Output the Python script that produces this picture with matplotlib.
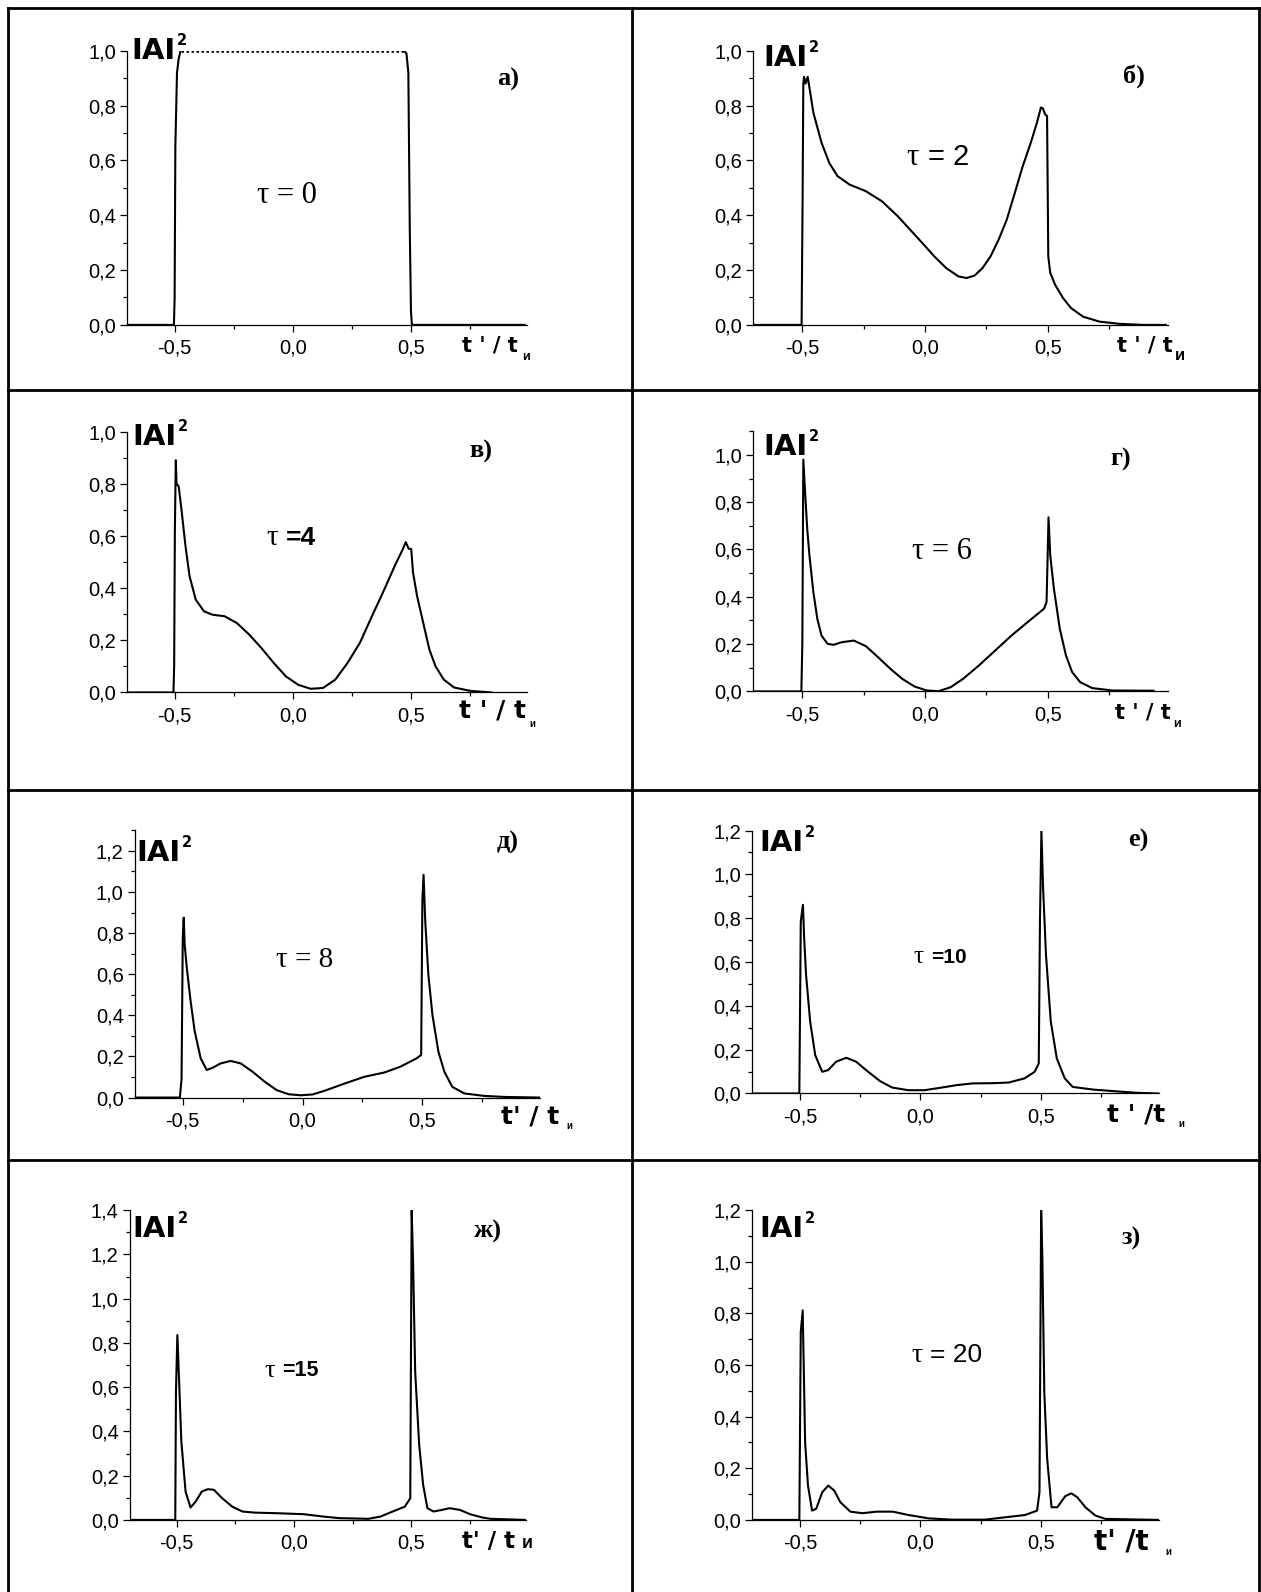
import matplotlib
matplotlib.use("Agg")
import matplotlib.pyplot as plt
from matplotlib.lines import Line2D
from matplotlib.ticker import FixedLocator, FuncFormatter

plt.rcParams['font.family'] = ['Liberation Sans', 'DejaVu Sans']

# ---------------- data (t'/t_и , |A|^2) ----------------
t_a = [-0.70, -0.503, -0.500, -0.497, -0.490, -0.483, -0.475, 0.470, 0.480, 0.488, 0.494, 0.499, 0.503, 0.98]
I_a = [0, 0, 0.10, 0.65, 0.92, 0.97, 1.00, 1.00, 0.99, 0.92, 0.35, 0.05, 0, 0]

t_b = [-0.70, -0.502, -0.498, -0.495, -0.492, -0.486, -0.477, -0.454, -0.421, -0.389, -0.356, -0.307,
       -0.241, -0.175, -0.110, -0.061, -0.011, 0.038, 0.087, 0.136, 0.169, 0.202, 0.234, 0.267, 0.300,
       0.333, 0.366, 0.398, 0.431, 0.456, 0.472, 0.480, 0.489, 0.497, 0.502, 0.510, 0.530, 0.562, 0.595,
       0.644, 0.710, 0.790, 0.890, 0.98]
I_b = [0, 0, 0.45, 0.88, 0.905, 0.88, 0.905, 0.774, 0.665, 0.59, 0.543, 0.512, 0.488, 0.451, 0.396,
       0.348, 0.299, 0.25, 0.207, 0.177, 0.171, 0.18, 0.207, 0.25, 0.311, 0.384, 0.482, 0.579, 0.665,
       0.738, 0.793, 0.79, 0.768, 0.762, 0.25, 0.19, 0.146, 0.098, 0.061, 0.03, 0.012, 0.004, 0.0, 0.0]

t_c = [-0.70, -0.505, -0.502, -0.499, -0.495, -0.492, -0.483, -0.471, -0.454, -0.437, -0.411, -0.376,
       -0.341, -0.289, -0.237, -0.185, -0.133, -0.081, -0.029, 0.023, 0.075, 0.127, 0.179, 0.231, 0.283,
       0.334, 0.386, 0.430, 0.464, 0.477, 0.490, 0.500, 0.508, 0.525, 0.551, 0.577, 0.603, 0.638, 0.681,
       0.750, 0.840]
I_c = [0, 0, 0.10, 0.62, 0.89, 0.80, 0.79, 0.70, 0.56, 0.446, 0.356, 0.311, 0.298, 0.292, 0.266, 0.222,
       0.170, 0.113, 0.061, 0.029, 0.014, 0.017, 0.049, 0.113, 0.19, 0.292, 0.394, 0.484, 0.548, 0.576,
       0.55, 0.55, 0.458, 0.369, 0.266, 0.164, 0.10, 0.049, 0.019, 0.006, 0.0]

t_d = [-0.70, -0.503, -0.499, -0.495, -0.487, -0.479, -0.470, -0.454, -0.438, -0.421, -0.396, -0.372,
       -0.339, -0.289, -0.240, -0.191, -0.141, -0.092, -0.043, 0.007, 0.056, 0.105, 0.155, 0.220, 0.286,
       0.352, 0.418, 0.484, 0.495, 0.503, 0.510, 0.525, 0.549, 0.574, 0.599, 0.632, 0.681, 0.763, 0.930]
I_d = [0, 0, 0.2, 0.98, 0.827, 0.686, 0.574, 0.419, 0.307, 0.236, 0.201, 0.197, 0.208, 0.215, 0.191,
       0.145, 0.096, 0.053, 0.021, 0.004, 0.001, 0.018, 0.053, 0.11, 0.173, 0.236, 0.293, 0.349, 0.377,
       0.736, 0.574, 0.433, 0.264, 0.152, 0.082, 0.039, 0.014, 0.004, 0.003]

t_e = [-0.70, -0.512, -0.505, -0.500, -0.496, -0.492, -0.483, -0.467, -0.450, -0.425, -0.400, -0.375,
       -0.342, -0.300, -0.258, -0.208, -0.158, -0.108, -0.058, -0.008, 0.042, 0.092, 0.175, 0.258, 0.342,
       0.408, 0.475, 0.495, 0.500, 0.505, 0.512, 0.525, 0.542, 0.567, 0.592, 0.625, 0.675, 0.758, 0.842, 0.99]
I_e = [0, 0, 0.09, 0.777, 0.875, 0.744, 0.63, 0.467, 0.321, 0.19, 0.134, 0.145, 0.166, 0.178, 0.166,
       0.125, 0.077, 0.036, 0.016, 0.011, 0.015, 0.033, 0.068, 0.101, 0.122, 0.15, 0.19, 0.207, 0.956,
       1.083, 0.858, 0.598, 0.402, 0.223, 0.125, 0.052, 0.02, 0.008, 0.003, 0.0]

t_f = [-0.70, -0.503, -0.497, -0.488, -0.483, -0.475, -0.458, -0.437, -0.408, -0.383, -0.350, -0.308,
       -0.267, -0.217, -0.167, -0.117, -0.050, 0.017, 0.083, 0.150, 0.217, 0.300, 0.367, 0.433, 0.475,
       0.492, 0.497, 0.503, 0.510, 0.522, 0.542, 0.567, 0.600, 0.633, 0.717, 0.800, 0.900, 0.99]
I_f = [0, 0, 0.785, 0.861, 0.709, 0.541, 0.328, 0.175, 0.099, 0.107, 0.145, 0.163, 0.145, 0.099, 0.056,
       0.027, 0.015, 0.015, 0.026, 0.038, 0.046, 0.047, 0.05, 0.069, 0.099, 0.137, 0.785, 1.2, 0.938,
       0.633, 0.328, 0.16, 0.069, 0.03, 0.018, 0.011, 0.003, 0.0]

t_g = [-0.70, -0.506, -0.503, -0.497, -0.490, -0.480, -0.462, -0.441, -0.419, -0.393, -0.367, -0.341,
       -0.306, -0.263, -0.220, -0.168, -0.064, 0.040, 0.126, 0.195, 0.317, 0.369, 0.421, 0.473, 0.496,
       0.502, 0.508, 0.517, 0.534, 0.551, 0.569, 0.595, 0.630, 0.664, 0.708, 0.751, 0.803, 0.838, 0.99]
I_g = [0, 0, 0.58, 0.836, 0.64, 0.354, 0.128, 0.056, 0.083, 0.128, 0.139, 0.136, 0.098, 0.06, 0.038,
       0.033, 0.03, 0.026, 0.015, 0.008, 0.005, 0.015, 0.038, 0.06, 0.098, 1.4, 1.167, 0.67, 0.339, 0.158,
       0.053, 0.038, 0.045, 0.053, 0.045, 0.026, 0.011, 0.005, 0.0]

t_h = [-0.70, -0.503, -0.497, -0.489, -0.484, -0.479, -0.467, -0.450, -0.433, -0.408, -0.383, -0.358,
       -0.333, -0.291, -0.241, -0.182, -0.115, -0.049, 0.034, 0.134, 0.268, 0.351, 0.435, 0.485, 0.495,
       0.502, 0.507, 0.515, 0.527, 0.545, 0.569, 0.602, 0.627, 0.652, 0.686, 0.727, 0.769, 0.99]
I_h = [0, 0, 0.728, 0.812, 0.56, 0.301, 0.133, 0.036, 0.043, 0.107, 0.133, 0.114, 0.069, 0.032, 0.026,
       0.032, 0.032, 0.019, 0.006, 0.001, 0.001, 0.01, 0.019, 0.036, 0.107, 1.2, 1.013, 0.495, 0.237,
       0.049, 0.049, 0.092, 0.103, 0.088, 0.049, 0.017, 0.004, 0.0]

panel_letters = ["а)", "б)", "в)", "г)", "д)", "е)", "ж)", "з)"]
y_tops = [1.0, 1.0, 1.0, 1.1, 1.3, 1.2, 1.4, 1.2]
x_major = [-0.5, 0.0, 0.5]
x_minor = [-0.25, 0.25, 0.75]
series = [(t_a, I_a), (t_b, I_b), (t_c, I_c), (t_d, I_d), (t_e, I_e), (t_f, I_f), (t_g, I_g), (t_h, I_h)]

# ---------------- layout (reference pixel coordinates, 1242x1568 space) ----------------
W, H = 1242.0, 1568.0
XLO, XHI = -0.70, 0.99
# (px of -0.5, px of 0.5, px of y=0, px of ref tick, ref tick value)
geom = [
    (172, 405, 320, 50, 1.0),
    (790, 1032, 320, 50, 1.0),
    (172, 405, 682, 425, 1.0),
    (790, 1032, 681, 448, 1.0),
    (180, 416, 1081, 838, 1.2),
    (788, 1025, 1077, 818, 1.2),
    (174, 405, 1497, 1192, 1.4),
    (788, 1025, 1497, 1192, 1.2),
]

fig = plt.figure(figsize=(12.61, 15.92), dpi=100)

def fmt(v, p):
    return f"{v:.1f}".replace('.', ',')

def ftext(x, y, s, **kw):
    kw.setdefault('ha', 'left')
    kw.setdefault('va', 'center')
    fig.text(x / W, 1 - y / H, s, **kw)

for i, ((xm, xp, y0, yref, refv), (tt, II), ytop) in enumerate(zip(geom, series, y_tops)):
    ux = xp - xm
    left = xm + (XLO + 0.5) * ux
    right = xm + (XHI + 0.5) * ux
    uy = (y0 - yref) / refv
    top = y0 - ytop * uy
    ax = fig.add_axes([left / W, 1 - y0 / H, (right - left) / W, (y0 - top) / H])
    if i == 0:
        # flat top of the initial pulse appears dotted in the original
        ax.plot(tt[:7], II[:7], color='black', lw=1.5)
        ax.plot(tt[6:8], II[6:8], color='black', lw=1.8, ls=(0, (1.0, 1.0)))
        ax.plot(tt[7:], II[7:], color='black', lw=1.5)
    else:
        ax.plot(tt, II, color='black', lw=1.5)
    ax.set_xlim(XLO, XHI)
    ax.set_ylim(0, ytop)
    for s in ('top', 'right'):
        ax.spines[s].set_visible(False)
    for s in ('left', 'bottom'):
        ax.spines[s].set_linewidth(0.9)
    ax.xaxis.set_major_locator(FixedLocator(x_major))
    ax.xaxis.set_minor_locator(FixedLocator(x_minor))
    n = int(round(ytop / 0.1))
    ax.yaxis.set_major_locator(FixedLocator([k * 0.2 for k in range(int(ytop / 0.2 + 1e-6) + 1)]))
    ax.yaxis.set_minor_locator(FixedLocator([k * 0.1 for k in range(n + 1)]))
    ax.xaxis.set_major_formatter(FuncFormatter(fmt))
    ax.yaxis.set_major_formatter(FuncFormatter(fmt))
    ax.tick_params(which='major', direction='out', length=5, width=0.9, labelsize=14.5)
    ax.tick_params(which='minor', direction='out', length=3, width=0.9)
    ax.tick_params(axis='x', pad=5)
    ax.tick_params(axis='y', pad=3)
    ax.patch.set_alpha(0)

# |A|^2 labels
iai_pos = [(129, 50), (752, 57), (130, 430), (752, 440), (134, 840), (748, 830), (130, 1210), (748, 1210)]
for (x, y) in iai_pos:
    ftext(x, y, "IAI", fontsize=21, fontweight='bold', family='DejaVu Sans')
    ftext(x + 45, y - 10, "2", fontsize=10.5, fontweight='bold', family='DejaVu Sans')

# panel letters
let_pos = [(500, 78), (1117, 75), (474, 445), (1104, 453), (500, 830), (1121, 828), (481, 1213), (1114, 1220)]
for s, (x, y) in zip(panel_letters, let_pos):
    ftext(x, y, s, ha='center', fontsize=19, fontweight='bold', family='Liberation Serif')

# tau labels: list of pieces (text, family, weight, size, x_left), y
tau_labels = [
    ([("τ = 0", 'Liberation Serif', 'normal', 22, 253)], 193),
    ([("τ", 'Liberation Serif', 'normal', 22, 893), ("= 2", 'Liberation Sans', 'normal', 21, 914)], 155),
    ([("τ", 'Liberation Serif', 'normal', 21, 262), ("=4", 'Liberation Sans', 'bold', 19, 282)], 530),
    ([("τ = 6", 'Liberation Serif', 'normal', 22, 898)], 543),
    ([("τ = 8", 'Liberation Serif', 'normal', 21, 272)], 946),
    ([("τ", 'Liberation Serif', 'normal', 18, 900), ("=10", 'Liberation Sans', 'bold', 15, 917)], 943),
    ([("τ", 'Liberation Serif', 'normal', 19, 260), ("=15", 'Liberation Sans', 'bold', 15.5, 278)], 1350),
    ([("τ", 'Liberation Serif', 'normal', 20, 898), ("= 20", 'Liberation Sans', 'normal', 19, 916)], 1335),
]
for pieces, y in tau_labels:
    for (s, fam, wt, sz, x) in pieces:
        ftext(x, y, s, family=fam, fontweight=wt, fontsize=sz)

# x-axis labels  t'/t_и : (text, size, x, y, x_sub, y_sub, size_sub)
xl = [
    ("t ' / t", 15, 455, 340, 514, 352, 9),
    ("t ' / t", 15, 1100, 340, 1157, 350, 12),
    ("t ' / t", 18, 452, 700, 521, 713, 7),
    ("t ' / t", 15, 1098, 702, 1155, 713, 9),
    ("t' / t", 18, 493, 1100, 558, 1109, 7),
    ("t ' /t", 18, 1090, 1098, 1161, 1107, 7),
    ("t' / t", 16.5, 455, 1518, 514, 1520, 13),
    ("t' /t", 20, 1078, 1518, 1148, 1529, 7),
]
for s, sz, x, y, xs, ys, szs in xl:
    ftext(x, y, s, fontsize=sz, fontweight='bold', family='DejaVu Sans')
    ftext(xs, ys, "и", fontsize=szs, fontweight='bold')

# table borders
lw = 2.0
def hline(y, x0=8, x1=1240):
    fig.add_artist(Line2D([x0 / W, x1 / W], [1 - y / H, 1 - y / H], color='black', lw=lw))
def vline(x, y0=8, y1=1568):
    fig.add_artist(Line2D([x / W, x / W], [1 - y0 / H, 1 - y1 / H], color='black', lw=lw))
for y in (8, 384, 778, 1143):
    hline(y)
for x in (8, 622, 1240):
    vline(x)

fig.savefig("out.png", dpi=100, facecolor='white')
